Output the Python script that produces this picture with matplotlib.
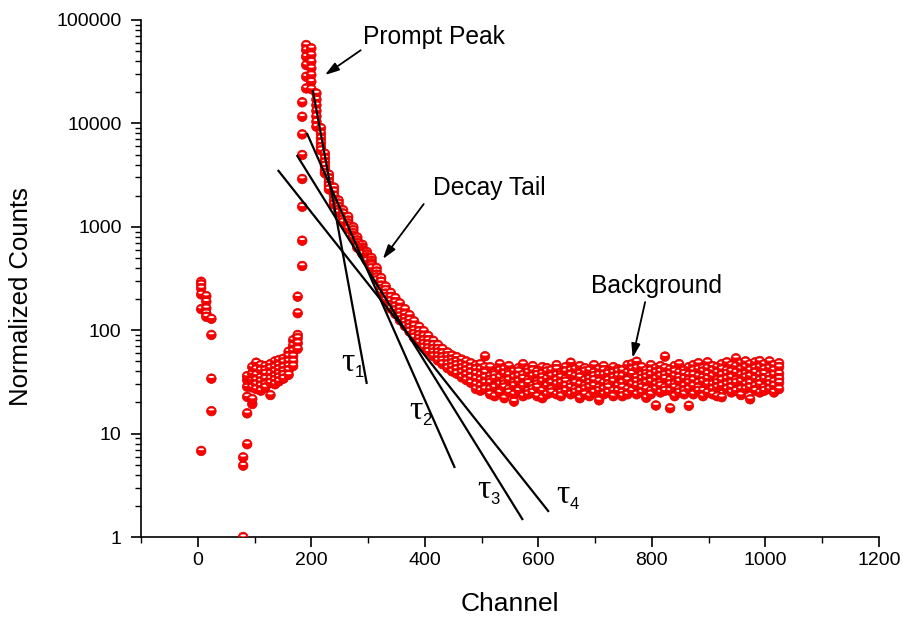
import numpy as np
import matplotlib
matplotlib.use("Agg")
import matplotlib.pyplot as plt
from matplotlib.path import Path
from matplotlib.transforms import Affine2D
from matplotlib.ticker import FixedLocator, FuncFormatter, LogLocator, NullFormatter

plt.rcParams['font.family'] = ['Liberation Sans', 'DejaVu Sans']

# ---------------- data (channel columns and the counts plotted at each) ----------------
peak_channels = [6, 15, 24, 80, 87, 96, 103, 111, 119, 128, 136, 143, 151, 160, 168, 176,
                 184, 191, 200, 209, 217, 224, 231, 240, 248, 256, 265, 274, 281, 290,
                 298, 306, 315, 323, 331, 340, 348, 356, 365, 373, 381, 390, 398, 406,
                 415, 423, 431, 440, 448, 456, 465, 473, 481, 490, 498, 506]
peak_counts = [
    [294, 278, 254, 222, 160, 6.8],
    [214, 189, 163, 146, 135],
    [129, 90, 34, 16.5],
    [1, 4.9, 5.9],
    [7.9, 15.7, 22.7, 28.4, 33, 36],
    [19.3, 21.6, 28, 33, 38, 44],
    [48.5, 42, 37, 33, 30, 27],
    [46, 41, 35, 32, 29, 26],
    [45, 41, 38, 34, 30, 28],
    [47, 43, 38, 34, 31, 23.6],
    [50, 44, 40, 36, 33, 30],
    [51.5, 46, 42, 38, 35, 32],
    [53, 49, 44, 40, 37, 34],
    [62, 56, 50, 45, 41, 37],
    [80, 71, 63, 56, 50, 45],
    [211, 146, 90, 84, 75, 66],
    [16000, 11600, 7840, 4950, 2900, 1563, 734, 418],
    [57300, 51300, 44200, 36700, 28300, 21800],
    [53200, 45800, 39500, 34100, 29400, 25300, 21500],
    [19500, 17000, 15000, 13200, 11700, 10400, 9300],
    [9000, 8000, 7200, 6500, 5900, 5500],
    [5100, 4600, 4200, 3900, 3550, 3300],
    [3200, 2950, 2700, 2500, 2300],
    [2400, 2200, 2000, 1800, 1650],
    [1800, 1680, 1560, 1460, 1380],
    [1450, 1350, 1250, 1180, 1110],
    [1250, 1150, 1080, 1020, 960],
    [990, 930, 870, 820, 780],
    [790, 740, 700, 660, 630],
    [670, 630, 600, 575, 550],
    [570, 540, 510, 490, 470],
    [500, 470, 445, 425, 400],
    [400, 370, 345, 325, 305],
    [320, 295, 270, 250, 232],
    [265, 245, 226, 210, 196],
    [230, 210, 192, 176, 162],
    [205, 186, 170, 156, 144],
    [182, 162, 148, 136, 125],
    [160, 143, 130, 120, 110],
    [140, 126, 115, 106, 97],
    [122, 110, 100, 92, 85],
    [108, 98, 90, 83, 76],
    [98, 88, 80, 74, 68],
    [88, 80, 73, 67, 62],
    [79, 72, 66, 61, 56],
    [72, 66, 61, 56, 51],
    [66, 60, 55, 51, 47],
    [61, 56, 51, 47, 43],
    [57, 52, 48, 44, 40],
    [55, 50, 46, 42, 38],
    [52, 47, 43, 39, 35],
    [50, 45, 41, 37, 33],
    [48, 43, 39, 35, 31],
    [46, 42, 38, 34, 30, 27],
    [47, 42, 37, 33, 29, 26],
    [56, 44, 39, 35, 31, 27],
]

background_channels = [515, 523, 532, 540, 548, 557, 565, 573, 582, 590, 598, 607, 615, 623,
                       632, 640, 648, 657, 665, 673, 682, 690, 698, 707, 715, 723, 732, 740,
                       748, 757, 765, 773, 782, 790, 798, 807, 815, 823, 832, 840, 848, 857,
                       865, 873, 882, 890, 898, 907, 915, 923, 932, 940, 948, 957, 965, 973,
                       982, 990, 998, 1007, 1015, 1024]
background_counts = [
    [44, 36, 33, 31, 27, 24], [39, 37, 34, 29, 28, 23], [47, 41, 35, 30, 26, 25],
    [42, 38, 32, 30, 28, 22], [45, 39, 37, 33, 27, 25], [40, 35, 31, 29, 24, 20.4],
    [43, 40, 36, 32, 27, 26], [47, 37, 34, 30, 29, 23], [42, 39, 33, 31, 26, 24],
    [45, 41, 36, 29, 27, 25], [40, 37, 32, 30, 28, 23], [44, 38, 35, 32, 26, 22],
    [43, 40, 34, 30, 29, 24], [41, 36, 31, 28, 27, 25], [46, 42, 37, 33, 30, 24],
    [39, 37, 35, 31, 25, 23], [44, 40, 34, 32, 29, 26], [48.5, 41, 37, 30, 28, 24],
    [42, 36, 32, 31, 27, 25], [45, 38, 35, 30, 26, 22], [43, 40, 33, 29, 27, 24],
    [41, 35, 34, 31, 28, 23], [46, 39, 36, 33, 29, 25], [42, 37, 32, 28, 26, 21],
    [45, 41, 37, 31, 27, 24], [40, 38, 33, 30, 28, 25], [44, 39, 35, 32, 26, 23],
    [42, 40, 36, 30, 29, 26], [41, 36, 31, 28, 25, 23], [46, 39, 34, 33, 27, 24],
    [47, 42, 38, 31, 30, 26], [49.6, 43, 35, 32, 29, 24], [44, 37, 34, 30, 28, 25],
    [41, 38, 35, 31, 27, 22.2], [46, 41, 37, 32, 26, 24], [43, 39, 34, 30, 27, 18.7],
    [45, 40, 36, 31, 29, 25], [55.6, 43, 37, 34, 28, 26], [42, 38, 33, 30, 26, 17.6],
    [45, 40, 36, 30, 28, 23], [47, 39, 35, 32, 27, 25], [41, 38, 34, 29, 26, 24],
    [44, 37, 33, 31, 27, 18.6], [46, 41, 37, 33, 29, 24], [48, 42, 36, 31, 28, 26],
    [43, 40, 35, 32, 26, 23], [49, 43, 38, 34, 30, 25], [45, 41, 36, 30, 27, 24],
    [44, 39, 33, 31, 28, 23], [47, 42, 37, 33, 29, 22.5], [49, 41, 38, 34, 30, 27],
    [46, 40, 35, 31, 28, 25], [53.5, 45, 39, 33, 31, 26], [48, 42, 37, 32, 27, 23.6],
    [50, 44, 38, 35, 30, 27], [47, 41, 36, 31, 28, 21.5], [49, 43, 39, 34, 29, 26],
    [50.3, 44, 37, 33, 30, 25], [47, 42, 38, 34, 28, 26], [50, 43, 36, 33, 30, 27],
    [46, 41, 37, 32, 29, 25], [48, 44, 38, 34, 31, 27],
]

# fitted exponential components (end points of each straight line on the log plot)
fit_names = ['1', '2', '3', '4']
fit_x_start = [202.6, 192.1, 174.4, 141.0]
fit_x_end = [297.8, 452.9, 572.7, 618.5]
fit_y_start = [21040, 8075, 4946, 3543]
fit_y_end = [30.2, 4.65, 1.46, 1.75]
fit_label_x = [253, 372, 492, 632]
fit_label_y = [48, 16.5, 2.85, 2.55]

# annotations: text, text position, arrow tail, arrow head
ann_text = ['Prompt Peak', 'Decay Tail', 'Background']
ann_text_xy = [(290.7, 68500), (414, 2373), (692.5, 267)]
ann_tail_xy = [(287, 51000), (398, 1660), (788, 187)]
ann_head_xy = [(224, 29400), (326, 488), (766, 54)]

x_ticks = [0, 200, 400, 600, 800, 1000, 1200]
y_ticks = [1, 10, 100, 1000, 10000, 100000]

# ---------------- figure ----------------
fig = plt.figure(figsize=(9.04, 6.19), dpi=100)
ax = fig.add_axes([141 / 904, 82 / 619, 738 / 904, 517 / 619])
ax.set_yscale('log')
ax.set_xlim(-100, 1200)
ax.set_ylim(1, 100000)

xs, ys = [], []
for ch, vals in zip(peak_channels + background_channels, peak_counts + background_counts):
    for v in vals:
        xs.append(ch)
        ys.append(v)
xs = np.repeat(np.array(xs, dtype=float), 2)
ys = np.repeat(np.array(ys, dtype=float), 2)

sc = ax.scatter(xs, ys, s=48, marker='o', zorder=3)
circle = Path.unit_circle().transformed(Affine2D().scale(0.5))
th = np.linspace(0, 2 * np.pi, 40)
highlight = Path(np.column_stack([0.30 * np.cos(th), 0.17 + 0.105 * np.sin(th)]), closed=True)
sc.set_paths([circle, highlight])
sc.set_facecolors(['#ff0000', '#ffffff'])
sc.set_edgecolors(['#d40000', (0, 0, 0, 0)])
sc.set_linewidths([0.5, 0.0])

for x0, x1, y0, y1 in zip(fit_x_start, fit_x_end, fit_y_start, fit_y_end):
    ax.plot([x0, x1], [y0, y1], color='black', lw=1.6, zorder=4, solid_capstyle='butt')
for name, lx, ly in zip(fit_names, fit_label_x, fit_label_y):
    ax.text(lx, ly, '\u03c4', family=['Liberation Serif', 'DejaVu Serif'], fontsize=24,
            ha='left', va='center', zorder=5)
    ax.annotate(name, xy=(lx, ly), xytext=(9.5, -7), textcoords='offset points',
                fontsize=12, ha='left', va='center', zorder=5)

for t, txy, tail, head in zip(ann_text, ann_text_xy, ann_tail_xy, ann_head_xy):
    ax.text(txy[0], txy[1], t, fontsize=17.7, ha='left', va='center')
    ax.annotate('', xy=head, xytext=tail,
                arrowprops=dict(arrowstyle='-|>,head_length=0.7,head_width=0.22',
                                mutation_scale=12, lw=1.3, color='black',
                                shrinkA=0, shrinkB=0))

for s in ['top', 'right']:
    ax.spines[s].set_visible(False)
for s in ['left', 'bottom']:
    ax.spines[s].set_linewidth(1.2)

ax.xaxis.set_major_locator(FixedLocator(x_ticks))
ax.xaxis.set_minor_locator(FixedLocator([-100, 100, 300, 500, 700, 900, 1100]))
ax.yaxis.set_major_locator(FixedLocator(y_ticks))
ax.yaxis.set_minor_locator(LogLocator(base=10, subs=np.arange(2, 10), numticks=20))
ax.yaxis.set_major_formatter(FuncFormatter(lambda v, p: f'{int(round(v))}'))
ax.yaxis.set_minor_formatter(NullFormatter())
ax.tick_params(which='major', direction='out', length=7, width=1.2, labelsize=14, pad=7)
ax.tick_params(axis='x', which='major', pad=4)
ax.tick_params(which='minor', direction='out', length=4, width=1.0)

ax.set_xlabel('Channel', fontsize=19, va='center')
ax.set_ylabel('Normalized Counts', fontsize=18.5, va='center')
ax.xaxis.set_label_coords(0.5, -0.13)
ax.yaxis.set_label_coords(-0.163, 0.466)

fig.savefig('out.png', dpi=100)
